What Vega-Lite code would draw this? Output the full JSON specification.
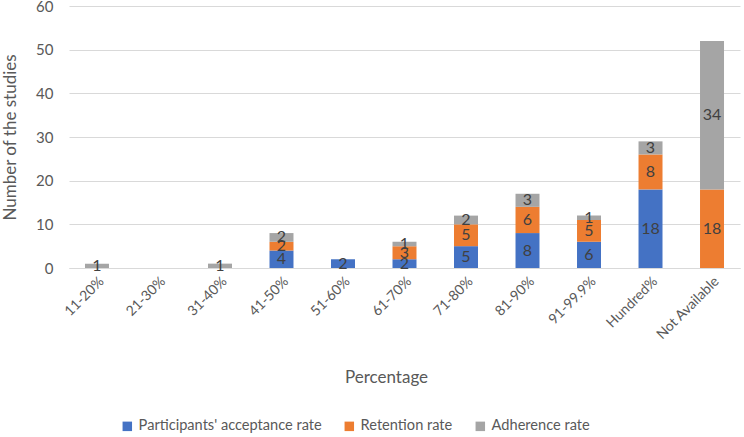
{
  "$schema": "https://vega.github.io/schema/vega-lite/v6.json",
  "autosize": {"type": "none"},
  "width": 671,
  "height": 262,
  "padding": {"left": 69, "top": 6, "right": 4, "bottom": 169},
  "background": "white",
  "config": {
    "font": "Lato",
    "view": {"stroke": null}
  },
  "data": {
    "values": [
      {"cat": "11-20%", "series": "Adherence rate", "ord": 3, "value": 1},
      {"cat": "31-40%", "series": "Adherence rate", "ord": 3, "value": 1},
      {"cat": "41-50%", "series": "Participants' acceptance rate", "ord": 1, "value": 4},
      {"cat": "41-50%", "series": "Retention rate", "ord": 2, "value": 2},
      {"cat": "41-50%", "series": "Adherence rate", "ord": 3, "value": 2},
      {"cat": "51-60%", "series": "Participants' acceptance rate", "ord": 1, "value": 2},
      {"cat": "61-70%", "series": "Participants' acceptance rate", "ord": 1, "value": 2},
      {"cat": "61-70%", "series": "Retention rate", "ord": 2, "value": 3},
      {"cat": "61-70%", "series": "Adherence rate", "ord": 3, "value": 1},
      {"cat": "71-80%", "series": "Participants' acceptance rate", "ord": 1, "value": 5},
      {"cat": "71-80%", "series": "Retention rate", "ord": 2, "value": 5},
      {"cat": "71-80%", "series": "Adherence rate", "ord": 3, "value": 2},
      {"cat": "81-90%", "series": "Participants' acceptance rate", "ord": 1, "value": 8},
      {"cat": "81-90%", "series": "Retention rate", "ord": 2, "value": 6},
      {"cat": "81-90%", "series": "Adherence rate", "ord": 3, "value": 3},
      {"cat": "91-99.9%", "series": "Participants' acceptance rate", "ord": 1, "value": 6},
      {"cat": "91-99.9%", "series": "Retention rate", "ord": 2, "value": 5},
      {"cat": "91-99.9%", "series": "Adherence rate", "ord": 3, "value": 1},
      {"cat": "Hundred%", "series": "Participants' acceptance rate", "ord": 1, "value": 18},
      {"cat": "Hundred%", "series": "Retention rate", "ord": 2, "value": 8},
      {"cat": "Hundred%", "series": "Adherence rate", "ord": 3, "value": 3},
      {"cat": "Not Available", "series": "Retention rate", "ord": 2, "value": 18},
      {"cat": "Not Available", "series": "Adherence rate", "ord": 3, "value": 34}
    ]
  },
  "transform": [
    {"stack": "value", "groupby": ["cat"], "sort": [{"field": "ord", "order": "ascending"}], "as": ["y0", "y1"]},
    {"calculate": "(datum.y0 + datum.y1) / 2", "as": "mid"}
  ],
  "encoding": {
    "x": {
      "field": "cat",
      "type": "nominal",
      "sort": ["11-20%", "21-30%", "31-40%", "41-50%", "51-60%", "61-70%", "71-80%", "81-90%", "91-99.9%", "Hundred%", "Not Available"],
      "scale": {"domain": ["11-20%", "21-30%", "31-40%", "41-50%", "51-60%", "61-70%", "71-80%", "81-90%", "91-99.9%", "Hundred%", "Not Available"], "paddingInner": 0.61, "paddingOuter": 0.26},
      "axis": {
        "title": "Percentage",
        "titleFontSize": 17,
        "titleFontWeight": "normal",
        "titleColor": "#595959",
        "titleX": 317,
        "titleY": 109,
        "titleBaseline": "middle",
        "labelAngle": -45,
        "labelFontSize": 14,
        "labelColor": "#595959",
        "labelPadding": 6,
        "ticks": false,
        "domainColor": "#D9D9D9",
        "domainWidth": 1
      }
    }
  },
  "layer": [
    {
      "mark": {"type": "bar"},
      "encoding": {
        "y": {
          "field": "y0",
          "type": "quantitative",
          "scale": {"domain": [0, 60], "nice": false},
          "axis": {
            "title": "Number of the studies",
            "titleFontSize": 17,
            "titleFontWeight": "normal",
            "titleColor": "#595959",
            "titleX": -59,
            "titleY": 131,
            "titleBaseline": "middle",
            "titleAlign": "center",
            "values": [0, 10, 20, 30, 40, 50, 60],
            "labelFontSize": 15,
            "labelColor": "#595959",
            "labelPadding": 16,
            "ticks": false,
            "domain": false,
            "gridColor": "#D9D9D9",
            "gridWidth": 1
          }
        },
        "y2": {"field": "y1"},
        "color": {
          "field": "series",
          "type": "nominal",
          "scale": {
            "domain": ["Participants' acceptance rate", "Retention rate", "Adherence rate"],
            "range": ["#4472C4", "#ED7D31", "#A5A5A5"]
          },
          "legend": {
            "title": null,
            "orient": "none",
            "direction": "horizontal",
            "legendX": 51,
            "legendY": 413,
            "symbolType": "square",
            "symbolSize": 90,
            "symbolStrokeWidth": 0,
            "labelFontSize": 14.6,
            "labelColor": "#595959",
            "labelLimit": 0,
            "columnPadding": 20,
            "labelOffset": 4
          }
        }
      }
    },
    {
      "mark": {"type": "text", "fontSize": 16, "color": "#404040", "baseline": "middle"},
      "encoding": {
        "y": {"field": "mid", "type": "quantitative"},
        "text": {"field": "value", "type": "quantitative"}
      }
    }
  ]
}
